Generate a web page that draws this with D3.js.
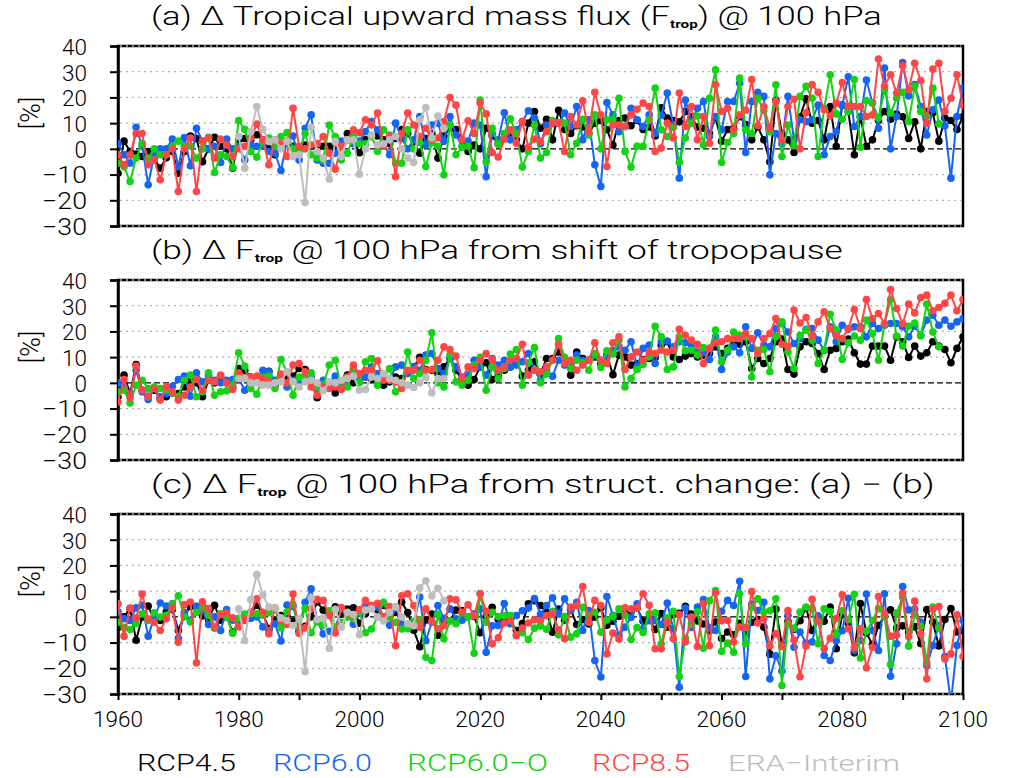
<!DOCTYPE html>
<html>
<head>
<meta charset="utf-8">
<script src="https://cdn.jsdelivr.net/npm/d3@7/dist/d3.min.js"></script>
<style>
body{margin:0;background:#fff;}
text{font-family:Roboto,"Liberation Sans",Arial,sans-serif;font-weight:300;fill:#000;}
</style>
</head>
<body>
<div id="chart"></div>
<script>
// ---- data (% change) ----
var years    = d3.range(1960, 2101);
var yearsO   = d3.range(1960, 2097);   // RCP6.0-O run stops earlier
var yearsEra = d3.range(1980, 2015);
var yTicks   = [40, 30, 20, 10, 0, -10, -20, -30];
var xTicks   = d3.range(1960, 2101, 10);
var xLabels  = d3.range(1960, 2101, 20);

var names  = ["RCP4.5", "RCP6.0", "RCP6.0\u2212O", "RCP8.5", "ERA\u2212Interim"];
var colors = ["#000000", "#1464f5", "#14d214", "#ff4646", "#bdbdbd"];

// (a) total change
var a45 = [-9.5,3,-1,-2,-3,-1,-4,-7.5,-3.5,-1,
  -9.5,-1,5,4,-5,0,4.5,1,0,-7.5,
  3.5,4,3.5,5.5,3.5,0,-2.3,1.5,2.5,1,
  0,1.5,1,0,1,1,0,1,6,3.5,
  -1.5,3.5,5,5,3.5,2,4,7.5,6,1,
  -1.7,4,6,-3.6,5,8,7.5,3.5,-1,1.5,
  0,8,5,2,4,5,3.5,0,10,14.5,
  8,11.5,3.5,15,7.5,6,9,8.5,6,10,
  11,7.5,1.5,11,12,9,11,7.5,8.5,5,
  16,12,11,10.5,14.5,12.5,8.5,8,6,12,
  3,7.5,8,12.5,9.5,3.5,8.5,3.5,-5,19,
  6,3.5,-1.4,12.5,19.5,10,11,3.5,16.5,1,
  17,14.5,-2.3,12.5,1,3.5,11,14.5,11.5,13.5,
  12.5,4,10.5,0,14.5,14,3,12,11,7.5,
  12.5];
var a60 = [2,-2.3,-5.6,8.4,1,-14,-2.3,0,0,3.8,
  -7,4.4,-6.6,8,3,0,1,-5.3,3.8,0,
  1,-4.3,1.5,1,1,-1,-1.7,-8.4,3,5,
  -4.3,8,13.2,-4.3,-5.6,-5.6,-1.7,3,3.5,2,
  3,6.7,10.6,7.4,2,-2.3,10,4,0,3.5,
  12.6,1.5,9.3,10,3,12.6,5.4,1,3,10,
  9.3,-10.8,6,3.5,14,3.5,7.4,10.6,14.8,12,
  2,9.3,10,10,13.9,8.7,16.5,3.5,11.3,-6.2,
  -14.6,18,13.2,6.7,8.7,15.8,11.3,8.7,13.2,6,
  13,21.7,9.3,-11.4,19,10.6,15.8,18.4,4.8,12.6,
  7.4,18.4,18.4,25.5,-1.4,18.4,22,20.4,-10.1,6,
  2,20.4,3.5,11.3,10.6,11.3,17,-2.3,4.8,6.7,
  17,28,8.7,12.6,26.8,17.8,8,31.4,0,12.6,
  33.6,20.6,25,16.5,5.4,15.2,19,9,-11.4,12.6,
  23.6];
var a60o = [-5.6,-7,-12.7,-3.6,2.2,-3.6,0,-2.3,-2.3,1,
  3,1,1,-3.6,0,4.5,-9.2,-2.3,-3,-7.3,
  11,7.6,-1,-3.2,2.9,4.2,1,4.8,6.3,0,
  -1.7,6,-2.3,-3.6,-4.3,9.3,4.8,-4.3,-1.7,4.8,
  2,2,4.8,-1,7.4,5.4,-5.6,-5.6,7.4,0,
  2.5,-6.9,2.5,1,-10.1,9.3,-2.3,0.6,1,-7.3,
  19,-5,8,1.8,6,11.7,6,-7.1,-1,9.3,
  -3.6,-1.4,11,10.2,10,-2.3,2.2,11.5,5.4,13.2,
  0,11.3,11.3,19.7,-1,-7.1,1,1,11.3,23.6,
  7.4,4.8,8.4,-5.3,4.2,10,12.8,1.5,19.7,30.7,
  -5.3,2.5,6,27.5,7.4,6,19.7,14.9,6.7,24.9,
  -3,9.3,1.2,20.4,24.3,19.7,-3,15.8,28.8,13.6,
  11.5,14.5,27,0.6,18.8,17.8,12,23,13.9,19.7,
  22,10.6,24.3,14.5,12.8,23.6,9.7];
var a85 = [-2.3,-6.2,-2.3,6,6,-6.2,-4.3,-12,-2.3,0,
  -16.6,0,4.2,-16.6,3,4.2,-3.6,3.8,1.5,-3,
  0,1,4.2,9.6,3.5,-6.2,3.5,2,-3,15.8,
  1,0,1.5,2,4.8,-1.7,-7.9,1,3.5,7.4,
  6.3,11.3,9.3,13.9,1,5,-10.8,6,13.9,9.3,
  4.8,8,3.5,4.2,10.6,20,17,3.5,10.9,6,
  17.8,13.6,-1.4,-3.2,3.8,7.4,2.2,10.6,0.6,3.8,
  2.9,6.7,10,10,-1,12.6,9.3,18.7,6.7,22,
  13.2,-6.9,9.3,9.3,8.7,13.2,15.4,17.8,16.5,-1,
  0.3,10,4.2,21.7,8.7,16.5,3.5,12.6,2.2,25,
  14.5,15.8,7.4,13.2,15,27,9,16.5,8,18.4,
  3.5,16.5,19.3,0,14,25,22,15.2,12.8,17.8,
  25.8,16.5,16.5,16.5,12.6,13.2,34.9,24.3,28.8,21.7,
  32.3,23,33.3,26.6,10,31,33.3,14.5,19.7,28.8,
  17];
var aEra = [4.8,-7.5,6.7,16.5,7.6,2.9,3.5,0,2.9,-3,
  -2.3,-20.9,8.4,-1,-3.6,-11.8,2.9,-3,3.5,3.5,
  -9.9,0,5.4,1.5,2,3.5,4.8,0,-3.6,-5.3,
  11.3,16.1,4.2,12.8,8];

// (b) part from tropopause shift
var b45 = [-5.4,3,-4.2,7.1,-2.9,-5.2,-2.9,-6.1,-5.4,-3.9,
  -4.2,-1.6,1,0,-5.4,1,0,2.3,0,-1.6,
  5.6,4.9,2.3,1,2.3,4.5,-0.9,1,2.3,2.6,
  5.6,5.2,1,-5.8,-1.6,0,-3.9,0,3,0,
  1,2.3,1.3,2.3,-0.9,0.4,2.3,1.7,4.3,6.2,
  9.9,5.2,4.9,3.6,6.2,9.5,4.9,1,-0.9,1.3,
  6.2,7.8,1.3,3,4.9,6.2,8.8,2.6,4.9,8.2,
  3.6,9.5,9.5,12,8.8,3,12,9.5,8.8,10.1,
  7.5,10.8,3.2,10.8,10.1,6.9,7.5,9.1,9.5,9.9,
  14.7,16,10.1,9.1,10.4,11.4,10.1,10.8,11.4,14,
  11.4,13.4,15,15,16,5.6,9.5,7.5,9.5,16,
  17,5.2,3.4,14,16,15.3,11.4,5.2,12.7,13.4,
  16,17,11.7,7.3,7.3,14.3,14.3,14.3,8.8,17.9,
  16,9.9,14.3,10.4,11.7,16,14.3,13,7.8,13.4,
  17.9];
var b60 = [0,-1.6,-4.2,4.9,-3.5,-6.5,-2.2,-5.4,-4.2,-1.3,
  1.3,2.6,-5.2,3.9,0.4,3,1,0,1,1.3,
  1.7,-2.9,2.1,1,4.9,4.3,1,1,-1.6,1,
  0,2.3,2.3,-2.9,1,0,2.6,0,2.3,4.9,
  1.7,2.3,6.2,3.6,2.3,1,6.2,6.9,3.6,6.2,
  4.9,10.8,11.4,5.6,3.6,9.5,6.2,2.3,3,8.8,
  6.2,3,9.5,6.9,8.8,6.2,6.9,8.2,11.4,4.9,
  1,4.9,2.6,8.8,6.9,6.2,10.8,8.8,8.8,10.8,
  8.8,10.1,12.7,14,12.7,16,6.2,13.4,14.7,7.5,
  16,16.3,14,16,15.6,14.7,12,11.7,9.1,17.9,
  5.2,12,14,11.7,21.8,13.4,19.5,14.7,14,21.1,
  23.1,19.8,15.3,17.2,20.8,21.1,16.6,12.7,21.8,16,
  22.4,20.8,21.8,21.8,17.9,23.1,21.1,22.4,23.1,23.1,
  21.8,17.9,22,18.5,24.4,26.3,22.4,24.4,22,23.7,
  25];
var b60o = [-3.5,-2.9,-7.8,-0.9,1,-2.2,-1.6,-2.2,-2.9,-3.9,
  -5.2,1,3,-5.4,-3.5,3.9,-4.8,-3.5,-3.1,-0.9,
  11.7,6.5,-2.2,-4.4,2.3,2.6,-2.2,9.1,4.3,-4.8,
  2.3,2.6,3.9,-1.6,-0.9,6.9,8.8,-2.2,-1.6,5.6,
  0,8.2,9.5,-0.9,1.7,5.6,-3.5,-0.9,12,1.7,
  3.6,8.8,19.5,0,-1.6,10.8,0.4,-0.9,1,6.9,
  9.9,-2.9,6.2,1.7,5.6,11.2,13,-0.9,7.8,13.7,
  0,3.4,8.8,17.2,9.9,5.6,8.8,7.8,4.9,11.4,
  6,12.5,11.2,16.6,-1.6,1.7,5.2,7.1,10.1,22,
  17.9,5.2,6.2,17.9,12.5,12.7,10.8,13.7,13.4,20.5,
  8.2,12.7,19.8,18.5,17.9,2.3,12.7,13,4.3,17.9,
  23.7,12,5.6,18.5,20.5,16.6,7.5,12.7,26.7,20.5,
  9.1,15.6,18.2,16.6,24.4,19.2,8.8,22.8,32.4,18.2,
  14.3,22,23.3,18.2,30.6,19.8,14];
var b85 = [-7.4,1.3,-5.7,6.5,-2.9,-5.4,-2.2,-6.7,-1.6,-3.5,
  -6.7,-4.8,-1.6,1.3,-2.9,1,0.4,3,0,-2.6,
  3.9,2.1,2.3,2.6,1.7,0.4,0,3.4,0,6.9,
  7.5,4.3,-1.6,-4.8,-1.6,-2.2,-1.6,-2.6,2.3,6.9,
  3.6,4.9,4.9,8.6,1,1,0.4,-2.2,4.9,4.9,
  8.8,4.9,5.2,8.8,14,13,10.4,1.7,6.2,5.6,
  8.8,11.4,9.1,4.9,6.2,8.8,9.5,15,3,4.9,
  4.3,6.2,8.8,15,7.5,8.8,4.9,6.9,8.8,15.6,
  8.8,7.5,15.6,17.9,5.2,10.1,12,8.8,12,11.4,
  12.7,12,12.7,20.8,18.5,16.6,15,7.5,13.4,15.6,
  16,17.2,17.2,17.2,19.2,17.2,11.4,17.2,19.2,25,
  15,14,28.3,23.3,25.4,18.2,23.7,27.6,21.1,18.5,
  17.2,21.1,28.5,21.1,32.4,25,27,23.1,36.3,28.9,
  23.1,30.6,27.2,33.2,34.1,28,29.3,30.9,34.1,28,
  32.4];
var bEra = [1.7,1.7,0,0,-0.9,-0.9,0,0.4,4.3,0.4,
  -1.6,0.4,1,0,-3.1,0.4,0,1,1.7,2.6,
  -2.9,-2.6,2.3,1.7,3.6,1.7,1,0,-0.9,-1.8,
  0,2.1,-3.9,1.7,1.7];

// (c) is defined in the figure as (a) - (b)
function minus(p, q) { return p.map(function(v, i){ return v - q[i]; }); }

var panels = [
  {id: "a", title: ["(a) \u0394 Tropical upward mass flux (F", "trop", ") @ 100 hPa"], tw: 731,
   series: [a45, a60, a60o, a85, aEra]},
  {id: "b", title: ["(b) \u0394 F", "trop", " @ 100 hPa from shift of tropopause"], tw: 692,
   series: [b45, b60, b60o, b85, bEra]},
  {id: "c", title: ["(c) \u0394 F", "trop", " @ 100 hPa from struct. change: (a) \u2212 (b)"], tw: 784,
   series: [minus(a45, b45), minus(a60, b60), minus(a60o, b60o), minus(a85, b85), minus(aEra, bEra)]}
];
var xsets = [years, years, yearsO, years, yearsEra];

// ---- layout ----
var W = 1009, H = 778;
var left = 118, right = 963, panelH = 180;
var tops = [46, 280, 514];

var svg = d3.select("#chart").append("svg")
  .attr("width", W).attr("height", H);

var x = d3.scaleLinear().domain([1960, 2100]).range([left, right]);

// squeeze/stretch a text horizontally about its anchor to the width it has in the figure
function fitWidth(node, ax, target) {
  var k = target / node.getBBox().width;
  d3.select(node).attr("transform",
    "translate(" + ax + ",0) scale(" + k + ",1) translate(" + (-ax) + ",0)");
}
function labelWidth(s) {
  // digits ~12.5 px, minus sign ~20 px in the plot font
  return s.replace("\u2212", "").length * 12.5 + (s.indexOf("\u2212") >= 0 ? 20 : 0);
}
function fmt(d) { return d < 0 ? "\u2212" + Math.abs(d) : String(d); }

panels.forEach(function(p, pi) {
  var top = tops[pi], bottom = top + panelH;
  var y = d3.scaleLinear().domain([-30, 40]).range([bottom, top]);
  var g = svg.append("g").attr("class", "panel-" + p.id);

  g.append("clipPath").attr("id", "clip-" + p.id)
    .append("rect").attr("x", left).attr("y", top)
    .attr("width", right - left).attr("height", panelH);

  // frame
  g.append("rect").attr("x", left).attr("y", top)
    .attr("width", right - left).attr("height", panelH)
    .attr("fill", "none").attr("stroke", "#000").attr("stroke-width", 2.5);

  // dotted grid, also over the top and bottom frame lines
  g.selectAll(".grid").data(yTicks.filter(function(d){ return d !== 0; }))
    .enter().append("line")
    .attr("x1", left + 2).attr("x2", right - 2)
    .attr("y1", y).attr("y2", y)
    .attr("stroke", "#b0b0b0").attr("stroke-width", 1.3)
    .attr("stroke-dasharray", "2,4");

  // zero line
  g.append("line").attr("x1", left).attr("x2", right)
    .attr("y1", y(0)).attr("y2", y(0))
    .attr("stroke", "#000").attr("stroke-width", 1.3)
    .attr("stroke-dasharray", "6,3");

  // y axis
  var yAxis = g.append("g").attr("transform", "translate(" + left + ",0)")
    .call(d3.axisLeft(y).tickValues(yTicks).tickSize(8).tickFormat(fmt));
  yAxis.select(".domain").attr("stroke-width", 2.5);
  yAxis.selectAll(".tick line").attr("stroke-width", 2);
  yAxis.selectAll(".tick text").attr("font-size", 23)
    .attr("font-family", null)
    .attr("x", -31).attr("dy", "0.36em")
    .each(function(d){ fitWidth(this, -31, labelWidth(fmt(d))); });

  // x axis only on the last panel
  if (pi === 2) {
    var xAxis = g.append("g").attr("transform", "translate(0," + bottom + ")")
      .call(d3.axisBottom(x).tickValues(xTicks).tickSize(6).tickFormat(""));
    xAxis.select(".domain").remove();
    xAxis.selectAll(".tick line").attr("stroke-width", 2);
    g.selectAll(".xlab").data(xLabels).enter().append("text")
      .attr("class", "xlab")
      .attr("x", x).attr("y", 727)
      .attr("text-anchor", "middle").attr("font-size", 23)
      .text(function(d){ return d; })
      .each(function(d){ fitWidth(this, x(d), 50); });
  }

  // series
  var line = d3.line().x(function(d){ return x(d[0]); }).y(function(d){ return y(d[1]); });
  var marks = g.append("g").attr("clip-path", "url(#clip-" + p.id + ")");
  p.series.forEach(function(vals, si) {
    var pts = d3.zip(xsets[si], vals);
    var sg = marks.append("g").attr("class", "series-" + si);
    sg.append("path").datum(pts).attr("d", line)
      .attr("fill", "none").attr("stroke", colors[si]).attr("stroke-width", 2);
    sg.selectAll("circle").data(pts).enter().append("circle")
      .attr("cx", function(d){ return x(d[0]); })
      .attr("cy", function(d){ return y(d[1]); })
      .attr("r", 3.8).attr("fill", colors[si]);
  });

  // title with subscript
  var t = g.append("text").attr("x", 151).attr("y", top - 21).attr("font-size", 25);
  t.append("tspan").text(p.title[0]);
  t.append("tspan").attr("font-size", 11).attr("font-weight", "bold")
    .attr("dy", 3).text(p.title[1]);
  t.append("tspan").attr("dy", -3).text(p.title[2]);
  fitWidth(t.node(), 151, p.tw);

  // unit label
  g.append("text").attr("font-size", 27)
    .attr("transform", "translate(40," + (top + 67) + ") rotate(-90)")
    .attr("text-anchor", "middle").text("[%]");
});

// legend row
var legX = [137, 273, 407, 592, 728];
var legW = [99, 99, 141, 98, 172];
svg.append("g").attr("class", "legend").selectAll("text").data(names).enter()
  .append("text")
  .attr("x", function(d, i){ return legX[i]; }).attr("y", 771)
  .attr("font-size", 23)
  .style("fill", function(d, i){ return colors[i]; })
  .text(function(d){ return d; })
  .each(function(d, i){ fitWidth(this, legX[i], legW[i]); });
</script>
</body>
</html>
